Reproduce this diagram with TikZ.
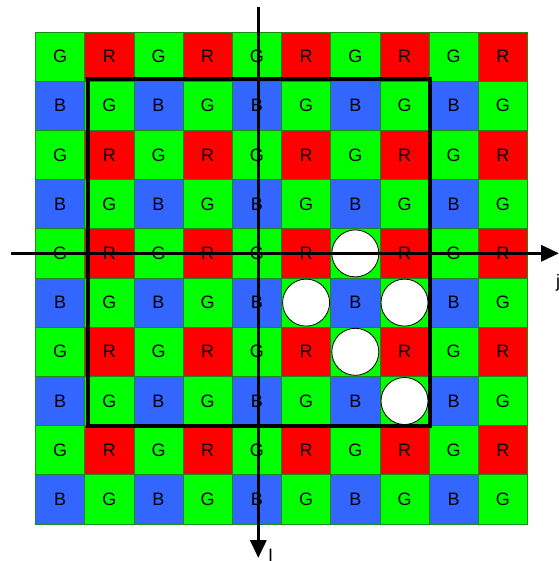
\documentclass[tikz,border=0pt]{standalone}
\usepackage{fontspec}
\setmainfont{Liberation Sans}
\usetikzlibrary{arrows.meta}
\definecolor{cg}{HTML}{00FF00}
\definecolor{cr}{HTML}{FF0000}
\definecolor{cb}{HTML}{3366FF}
\definecolor{edge}{HTML}{1A8A1A}
\tikzset{
  cell/.style={draw=edge, line width=0.8pt},
  lbl/.style={font=\fontsize{18}{20}\selectfont, text=black, inner sep=0pt},
  hole/.style={circle, draw=black, fill=white, line width=0.8pt, minimum size=47pt, inner sep=0pt},
  axis/.style={line width=3.5pt, -{Triangle[length=18pt,width=16pt]}},
  frame/.style={line width=4pt, draw=black},
}
\begin{document}
\begin{tikzpicture}[x=1pt,y=-1pt]
\useasboundingbox (0,0) rectangle (558,561);
\def\xo{35.5}\def\yo{32}\def\s{49.2}
\foreach \r in {0,...,9}{
  \foreach \c in {0,...,9}{
    \pgfmathtruncatemacro{\re}{mod(\r,2)}
    \pgfmathtruncatemacro{\ce}{mod(\c,2)}
    \ifnum\re=0
      \ifnum\ce=0 \def\col{cg}\def\t{G}\else\def\col{cr}\def\t{R}\fi
    \else
      \ifnum\ce=0 \def\col{cb}\def\t{B}\else\def\col{cg}\def\t{G}\fi
    \fi
    \path[cell, fill=\col] ({\xo+\c*\s},{\yo+\r*\s}) rectangle ({\xo+(\c+1)*\s},{\yo+(\r+1)*\s});
    \node[lbl] (t\r-\c) at ({\xo+(\c+0.5)*\s},{\yo+(\r+0.5)*\s}) {\t};
  }
}
% holes
\node[hole] (h1) at ({\xo+6.5*\s},{\yo+4.5*\s}) {};
\node[hole] (h2) at ({\xo+5.5*\s},{\yo+5.5*\s}) {};
\node[hole] (h3) at ({\xo+7.5*\s},{\yo+5.5*\s}) {};
\node[hole] (h4) at ({\xo+6.5*\s},{\yo+6.5*\s}) {};
\node[hole] (h5) at ({\xo+7.5*\s},{\yo+7.5*\s}) {};
% frame
\draw[frame] (87.5,79) rectangle (430,426);
% axes
\coordinate (xs) at (11,253.3);
\coordinate (xe) at (559,253.3);
\coordinate (ys) at (258.3,7);
\coordinate (ye) at (258.3,558);
\draw[axis] (xs) -- (xe);
\draw[axis] (ys) -- (ye);
\node[lbl, anchor=base west] (xl) at (556,287) {j};
\node[lbl, anchor=base west] (yl) at (268,561) {I};
\end{tikzpicture}
\end{document}
